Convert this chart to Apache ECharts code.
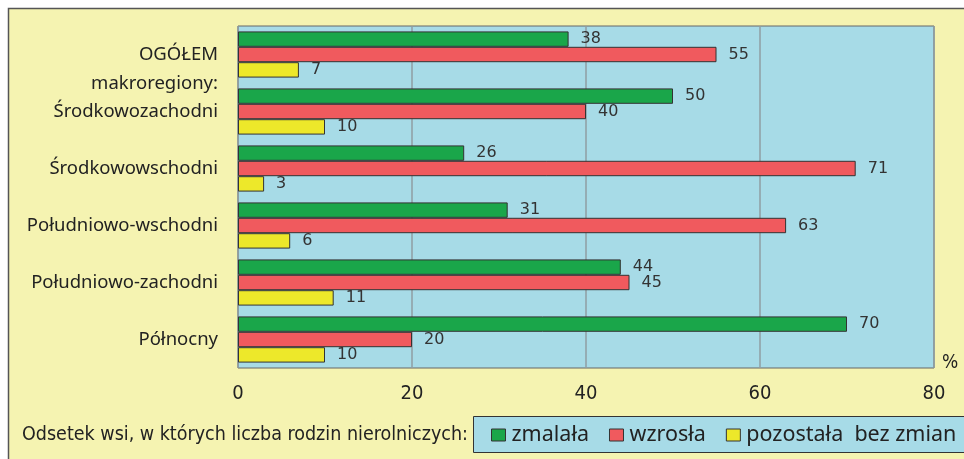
<!DOCTYPE html>
<html>
<head>
<meta charset="utf-8">
<script src="https://cdn.jsdelivr.net/npm/echarts@6/dist/echarts.min.js"></script>
<style>
html,body{margin:0;padding:0;background:#fff;}
#main{width:964px;height:459px;}
</style>
</head>
<body>
<div id="main"></div>
<script>
// dane z wykresu
var categories = ['OGÓŁEM', 'Środkowozachodni', 'Środkowowschodni', 'Południowo-wschodni', 'Południowo-zachodni', 'Północny'];
var zmalala = [38, 50, 26, 31, 44, 70];
var wzrosla = [55, 40, 71, 63, 45, 20];
var bezZmian = [7, 10, 3, 6, 11, 10];
var seriesNames = ['zmalała', 'wzrosła', 'pozostała  bez zmian'];
var xTicks = [0, 20, 40, 60, 80];

var colors = ['#1aa64a', '#f05a5e', '#ede82a'];
var narrow = '"Liberation Sans Narrow", "DejaVu Sans Condensed", sans-serif';

var myChart = echarts.init(document.getElementById('main'));

function bar(name, data, color) {
    return {
        name: name,
        type: 'bar',
        data: data,
        barGap: '0%',
        barCategoryGap: '19%',
        itemStyle: { color: color, borderColor: '#333', borderWidth: 1 },
        label: {
            show: true,
            position: 'right',
            distance: 12,
            color: '#333',
            fontFamily: '"DejaVu Sans", sans-serif',
            fontSize: 16
        },
        emphasis: { disabled: true }
    };
}

var option = {
    backgroundColor: '#ffffff',
    animation: false,
    graphic: [
        {
            type: 'rect', z: -10, silent: true,
            shape: { x: 8.5, y: 8.5, width: 980, height: 480 },
            style: { fill: '#f5f3b1', stroke: '#555', lineWidth: 1.5 }
        },
        {
            type: 'text', silent: true,
            style: {
                x: 491, y: 5, text: 'badaniem w latach 2005 i 2011',
                textAlign: 'center', textVerticalAlign: 'bottom',
                font: 'bold 22px "Liberation Serif", serif', fill: '#111'
            }
        },
        {
            type: 'text', silent: true,
            style: {
                x: 218, y: 84, text: 'makroregiony:',
                textAlign: 'right', textVerticalAlign: 'middle',
                font: '18.5px "Noto Sans", sans-serif', fill: '#222'
            }
        },
        {
            type: 'text', silent: true,
            style: {
                x: 942, y: 363, text: '%',
                textAlign: 'left', textVerticalAlign: 'middle',
                font: '19px ' + narrow, fill: '#222'
            }
        },
        {
            type: 'text', silent: true,
            style: {
                x: 22, y: 435, text: 'Odsetek wsi, w których liczba rodzin nierolniczych:',
                textAlign: 'left', textVerticalAlign: 'middle',
                font: '19.5px ' + narrow, fill: '#222'
            }
        },
        {
            type: 'rect', silent: true, z: 1,
            shape: { x: 473.5, y: 416.5, width: 500, height: 36 },
            style: { fill: '#a7dbe7', stroke: '#333', lineWidth: 1 }
        }
    ],
    legend: {
        data: seriesNames,
        left: 491,
        top: 424,
        width: 800,
        padding: 0,
        z: 5,
        itemWidth: 14,
        itemHeight: 12,
        itemGap: 20,
        icon: 'rect',
        itemStyle: { borderColor: '#333', borderWidth: 1 },
        textStyle: { fontFamily: '"Noto Sans", sans-serif', fontSize: 21.5, color: '#222', padding: [0, 0, 0, 1] },
        selectedMode: false
    },
    grid: {
        left: 238,
        right: 30,
        top: 26,
        bottom: 91,
        show: true,
        backgroundColor: '#a7dbe7',
        borderColor: '#666',
        borderWidth: 1
    },
    xAxis: {
        type: 'value',
        min: xTicks[0],
        max: xTicks[xTicks.length - 1],
        interval: 20,
        axisLine: { show: false },
        axisTick: { show: false },
        splitLine: { lineStyle: { color: '#8f9ea3', width: 1.5 } },
        axisLabel: {
            margin: 16,
            fontFamily: narrow,
            fontSize: 20,
            color: '#222'
        }
    },
    yAxis: {
        type: 'category',
        inverse: true,
        data: categories,
        axisLine: { show: false },
        axisTick: { show: false },
        axisLabel: {
            margin: 20,
            fontFamily: '"Noto Sans", sans-serif',
            fontSize: 18.5,
            color: '#222'
        }
    },
    series: [
        bar(seriesNames[0], zmalala, colors[0]),
        bar(seriesNames[1], wzrosla, colors[1]),
        bar(seriesNames[2], bezZmian, colors[2])
    ]
};

myChart.setOption(option);
</script>
</body>
</html>
